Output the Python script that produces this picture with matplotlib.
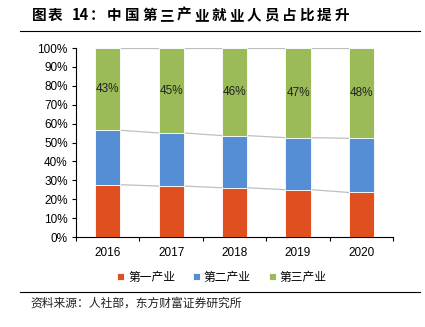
import matplotlib
matplotlib.use("Agg")
import matplotlib.pyplot as plt
import numpy as np
from matplotlib.ticker import FuncFormatter

plt.rcParams['font.family'] = ['Liberation Sans', 'Noto Sans CJK SC', 'DejaVu Sans']

years = ['2016', '2017', '2018', '2019', '2020']
primary = [27.7, 27.0, 26.1, 25.1, 23.6]
secondary = [28.8, 28.1, 27.6, 27.5, 28.7]
tertiary = [43.5, 44.9, 46.3, 47.4, 47.7]
tertiary_labels = ['43%', '45%', '46%', '47%', '48%']
series_names = ['第一产业', '第二产业', '第三产业']
colors = ['#DF4F20', '#558ED5', '#9BBB59']

W, H = 425, 327
fig = plt.figure(figsize=(W / 100, H / 100), dpi=100)
ax = fig.add_axes([0.179, 0.275, 0.746, 0.578])

x = np.arange(len(years))
w = 0.4
p = np.array(primary) / 100
s = np.array(secondary) / 100
t = np.array(tertiary) / 100

b1 = ax.bar(x, p, w, color=colors[0], edgecolor='white', linewidth=0.6, label=series_names[0], zorder=3)
b2 = ax.bar(x, s, w, bottom=p, color=colors[1], edgecolor='white', linewidth=0.6, label=series_names[1], zorder=3)
b3 = ax.bar(x, t, w, bottom=p + s, color=colors[2], edgecolor='white', linewidth=0.6, label=series_names[2], zorder=3)

# series lines between bars
for tops in [p, p + s, p + s + t]:
    for i in range(len(x) - 1):
        ax.plot([x[i] + w / 2, x[i + 1] - w / 2], [tops[i], tops[i + 1]],
                color='#BFBFBF', linewidth=0.9, zorder=2)

for i in range(len(x)):
    ax.text(x[i], p[i] + s[i] + t[i] / 2, tertiary_labels[i], ha='center', va='center',
            fontsize=8.5, color='#222222', zorder=4)

ax.set_xlim(-0.5, len(x) - 0.5)
ax.set_ylim(0, 1)
ax.set_yticks(np.arange(0, 1.01, 0.1))
ax.yaxis.set_major_formatter(FuncFormatter(lambda v, _: f'{v * 100:.0f}%'))
ax.set_xticks(x)
ax.set_xticklabels(years)
ax.set_xticks(np.arange(-0.5, len(x), 1), minor=True)
ax.tick_params(axis='x', which='major', length=0, pad=7, labelsize=8.5)
ax.tick_params(axis='x', which='minor', length=3, direction='out', width=0.8)
ax.tick_params(axis='y', length=3, width=0.8, labelsize=8.5, pad=3)
for side in ['top', 'right']:
    ax.spines[side].set_visible(False)
for side in ['left', 'bottom']:
    ax.spines[side].set_linewidth(0.8)
    ax.spines[side].set_color('black')

fig.legend(handles=[b1, b2, b3], labels=series_names, loc='center', bbox_to_anchor=(0.522, 0.152),
           ncol=3, frameon=False, handlelength=0.6, handleheight=0.6,
           handletextpad=0.35, columnspacing=1.5, prop={'family': 'Noto Sans CJK SC', 'size': 8.5})

# title, with the wide character pitch of the original
cjk = ['Noto Sans CJK SC', 'DejaVu Sans']
title_y = 0.955
title_style = dict(fontsize=10.5, fontweight='bold', family=cjk, va='center')
fig.text(32 / W, title_y, '图', **title_style)
fig.text(48 / W, title_y, '表', **title_style)
fig.text(72 / W, title_y, '14', **title_style)
fig.text(90 / W, title_y, '：', **title_style)
title_body = '中国第三产业就业人员占比提升'
for k, ch in enumerate(title_body):
    fig.text((107 + 17.5 * k) / W, title_y, ch, **title_style)

fig.add_artist(plt.Line2D([20 / W, 420 / W], [0.905, 0.905], color='black', linewidth=0.8))
fig.add_artist(plt.Line2D([20 / W, 420 / W], [0.107, 0.107], color='black', linewidth=0.8))
fig.text(30 / W, 0.072, '资料来源：人社部，东方财富证券研究所', fontsize=8.5,
         family=cjk, va='center', ha='left', color='#222222')

fig.savefig('out.png', dpi=100)
